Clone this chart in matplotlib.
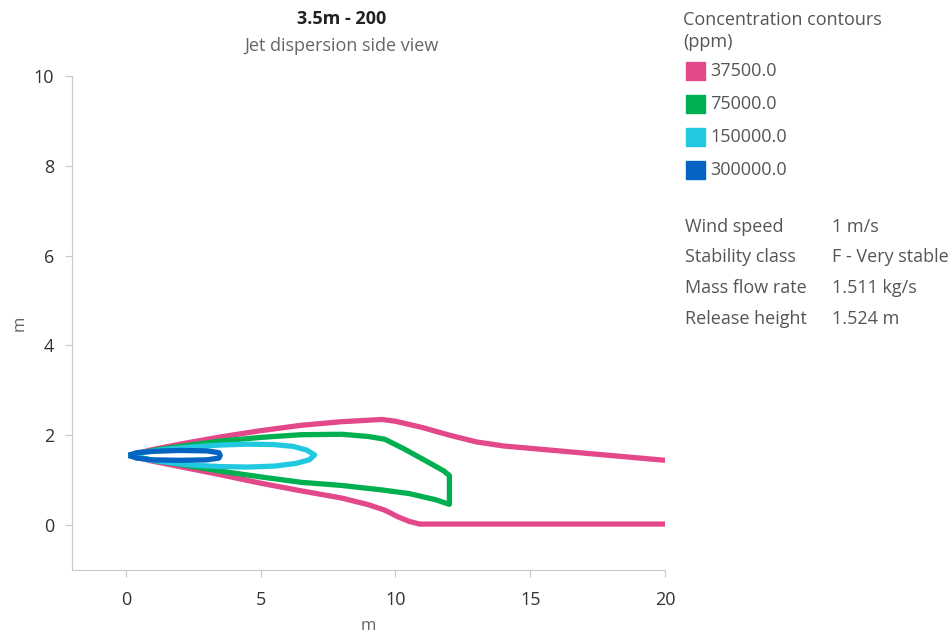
import matplotlib.pyplot as plt
from matplotlib.patches import Rectangle

plt.rcParams['font.family'] = ['Open Sans', 'DejaVu Sans']

# contour outlines (x, y in m), outermost first
levels = ['37500.0', '75000.0', '150000.0', '300000.0']
colors = ['#E2488A', '#00B050', '#22C8E0', '#0563C1']

# the 37500 ppm contour leaves the plotted range, so it is kept as two open edges
x_37500_top = [0.1, 1, 2, 3.5, 5, 6.5, 8, 9.5, 10, 11, 12, 13, 14, 15.5, 17, 18.5, 20]
y_37500_top = [1.55, 1.68, 1.8, 1.96, 2.1, 2.22, 2.3, 2.35, 2.31, 2.17, 2.0, 1.85, 1.76,
               1.68, 1.6, 1.52, 1.44]
x_37500_bot = [0.1, 1, 2, 3.5, 5, 6.5, 8, 9, 9.6, 10.1, 10.5, 10.9, 20]
y_37500_bot = [1.55, 1.42, 1.3, 1.12, 0.93, 0.76, 0.6, 0.45, 0.33, 0.18, 0.08, 0.02, 0.02]

x_75000 = [0.1, 1, 2, 3.5, 5, 6.5, 8, 9, 9.6, 10.3, 11.3, 11.8, 12.0,
           12.0, 11.5, 10.5, 9.5, 8, 6.5, 5, 3.5, 2, 1, 0.1]
y_75000 = [1.55, 1.66, 1.75, 1.87, 1.95, 2.01, 2.02, 1.97, 1.91, 1.7, 1.37, 1.2, 1.1,
           0.46, 0.56, 0.7, 0.78, 0.88, 0.95, 1.07, 1.2, 1.35, 1.44, 1.55]

x_150000 = [0.1, 0.8, 1.6, 2.5, 3.5, 4.5, 5.5, 6.2, 6.7, 7.0,
            6.8, 6.3, 5.5, 4.5, 3.5, 2.5, 1.6, 0.8, 0.1]
y_150000 = [1.55, 1.63, 1.69, 1.74, 1.78, 1.8, 1.79, 1.75, 1.67, 1.56,
            1.45, 1.37, 1.31, 1.29, 1.3, 1.33, 1.39, 1.46, 1.55]

x_300000 = [0.1, 0.4, 1, 2, 3, 3.45, 3.5, 3.45, 3, 2, 1, 0.4, 0.1]
y_300000 = [1.55, 1.61, 1.64, 1.66, 1.65, 1.61, 1.55, 1.49, 1.45, 1.44, 1.45, 1.49, 1.55]

lines = [(x_37500_top, y_37500_top, colors[0]),
         (x_37500_bot, y_37500_bot, colors[0]),
         (x_75000, y_75000, colors[1]),
         (x_150000, y_150000, colors[2]),
         (x_300000, y_300000, colors[3])]

info_labels = ['Wind speed', 'Stability class', 'Mass flow rate', 'Release height']
info_values = ['1 m/s', 'F - Very stable', '1.511 kg/s', '1.524 m']

fig = plt.figure(figsize=(9.52, 6.41), dpi=100)
ax = fig.add_axes([0.0756, 0.111, 0.623, 0.7704])

for x, y, c in lines:
    ax.plot(x, y, color=c, lw=3.8, solid_joinstyle='round', solid_capstyle='butt')

ax.set_xlim(-2, 20)
ax.set_ylim(-1, 10)
ax.set_xticks([0, 5, 10, 15, 20])
ax.set_yticks([0, 2, 4, 6, 8, 10])
for s in ['top', 'right']:
    ax.spines[s].set_visible(False)
for s in ['left', 'bottom']:
    ax.spines[s].set_color('#C8C8C8')
ax.tick_params(colors='#C8C8C8', labelcolor='#333333', labelsize=13, length=5)
ax.tick_params(axis='x', pad=10)
ax.tick_params(axis='y', pad=8)
ax.set_xlabel('m', color='#666666', fontsize=12)
ax.set_ylabel('m', color='#666666', fontsize=12)
ax.xaxis.set_label_coords(0.5, -0.098)
ax.yaxis.set_label_coords(-0.074, 0.5)

fig.text(0.359, 0.970, '3.5m - 200', ha='center', va='center', fontsize=13,
         fontweight='bold', color='#222222')
fig.text(0.359, 0.929, 'Jet dispersion side view', ha='center', va='center',
         fontsize=13, color='#666666')

# legend block
fig.text(683 / 952, 0.969, 'Concentration contours', ha='left', va='center',
         fontsize=13, color='#555555')
fig.text(683 / 952, 0.934, '(ppm)', ha='left', va='center', fontsize=13, color='#555555')
for i, (lab, c) in enumerate(zip(levels, colors)):
    yc = 1 - (71 + 33 * i) / 641
    fig.patches.append(Rectangle((686 / 952, yc - 9 / 641), 19 / 952, 18 / 641,
                                 transform=fig.transFigure, color=c))
    fig.text(710 / 952, yc, lab, ha='left', va='center', fontsize=13, color='#555555')

# release parameters
for i, (lab, val) in enumerate(zip(info_labels, info_values)):
    yc = 1 - (227 + 30.5 * i) / 641
    fig.text(685 / 952, yc, lab, ha='left', va='center', fontsize=13, color='#555555')
    fig.text(832 / 952, yc, val, ha='left', va='center', fontsize=13, color='#555555')

plt.savefig('out.png', dpi=100)
